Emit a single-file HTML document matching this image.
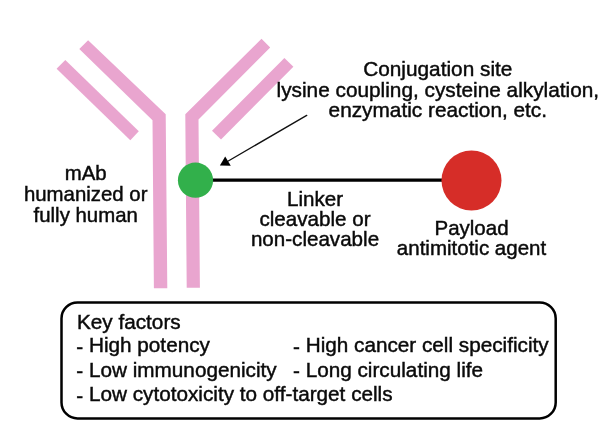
<!DOCTYPE html>
<html><head><meta charset="utf-8">
<style>
html,body{margin:0;padding:0;background:#fff;}
body{width:600px;height:431px;position:relative;overflow:hidden;filter:blur(0.3px);font-family:"Liberation Sans",sans-serif;color:#0a0a0a;}
svg{position:absolute;left:0;top:0;}
.t{position:absolute;white-space:nowrap;line-height:20px;-webkit-text-stroke:0.45px #0a0a0a;}
.c{text-align:center;width:600px;}
.d{position:relative;top:1.5px;}
</style></head><body>
<svg width="600" height="431" viewBox="0 0 600 431">
  <g fill="#e9a5cf">
    <polygon points="88.1,40.2 165.7,114.3 167.3,288.2 153.9,288.2 152.5,120.2 79.3,48.9"/>
    <polygon points="65.3,59.9 138.8,131.3 130.3,140.2 56.6,68.7"/>
    <polygon points="261.5,38.7 270.2,47.4 198.5,119.5 199.9,287.7 186.7,287.7 185.3,114.3"/>
    <polygon points="284.4,58 293.4,66.7 221,139.5 212,130.8"/>
  </g>
  <line x1="210" y1="180.2" x2="445" y2="180.2" stroke="#000" stroke-width="3.3"/>
  <circle cx="195.5" cy="180.2" r="17.6" fill="#32b04b"/>
  <circle cx="471.5" cy="180.5" r="30" fill="#d62d28"/>
  <line x1="306.7" y1="115.4" x2="228.3" y2="161" stroke="#111" stroke-width="1.35" stroke-linecap="round"/>
  <polygon points="219.9,165.6 225.2,156.4 230.8,165.8" fill="#000"/>
  <rect x="61.5" y="302.4" width="494.2" height="116" rx="16" ry="16" fill="none" stroke="#000" stroke-width="2.5"/>
</svg>

<div class="t c" style="left:137.80px;top:59.00px;font-size:20.8px">Conjugation site</div>
<div class="t c" style="left:137.80px;top:79.60px;font-size:20.8px">lysine coupling, cysteine alkylation,</div>
<div class="t c" style="left:137.80px;top:99.80px;font-size:20.8px">enzymatic reaction, etc.</div>
<div class="t c" style="left:-214.30px;top:163.00px;font-size:20.4px">mAb</div>
<div class="t c" style="left:-214.30px;top:183.50px;font-size:20.4px">humanized or</div>
<div class="t c" style="left:-214.30px;top:204.50px;font-size:20.4px">fully human</div>
<div class="t c" style="left:15.00px;top:188.80px;font-size:20.6px">Linker</div>
<div class="t c" style="left:15.00px;top:208.80px;font-size:20.6px">cleavable or</div>
<div class="t c" style="left:15.00px;top:229.20px;font-size:20.6px">non-cleavable</div>
<div class="t c" style="left:171.50px;top:218.20px;font-size:20.5px">Payload</div>
<div class="t c" style="left:171.50px;top:238.00px;font-size:20.5px">antimitotic agent</div>
<div class="t" style="left:77.00px;top:311.60px;font-size:20.72px">Key factors</div>
<div class="t" style="left:76.30px;top:335.40px;font-size:20.72px"><span class="d">-</span> High potency</div>
<div class="t" style="left:76.30px;top:359.50px;font-size:20.72px"><span class="d">-</span> Low immunogenicity</div>
<div class="t" style="left:76.30px;top:384.30px;font-size:20.72px"><span class="d">-</span> Low cytotoxicity to off-target cells</div>
<div class="t" style="left:293.00px;top:335.40px;font-size:20.72px"><span class="d">-</span> High cancer cell specificity</div>
<div class="t" style="left:293.00px;top:359.50px;font-size:20.72px"><span class="d">-</span> Long circulating life</div>
</body></html>
